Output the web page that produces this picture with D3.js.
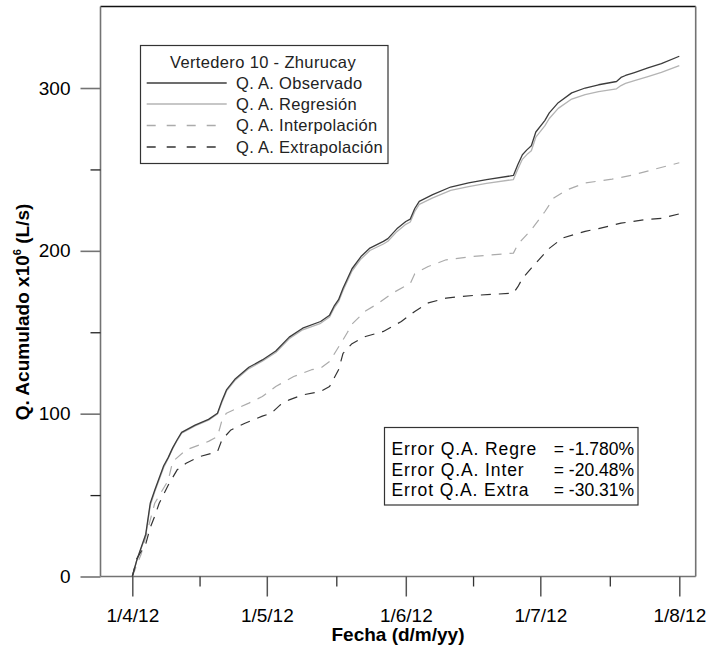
<!DOCTYPE html>
<html>
<head>
<meta charset="utf-8">
<script src="https://cdn.jsdelivr.net/npm/d3@7"></script>
<style>
  html, body { margin: 0; padding: 0; background: #fff; }
  svg { display: block; font-family: "Liberation Sans", Arial, sans-serif; }
</style>
</head>
<body>
<svg id="chart" width="707" height="650"></svg>
<script>
// Cumulative discharge, Vertedero 10 - Zhurucay (April - August 2012)
const obsDates = ["2012-04-01","2012-04-02","2012-04-03","2012-04-04","2012-04-05","2012-04-06","2012-04-08","2012-04-09","2012-04-10","2012-04-11","2012-04-12","2012-04-15","2012-04-18","2012-04-20","2012-04-21","2012-04-22","2012-04-24","2012-04-27","2012-04-30","2012-05-03","2012-05-06","2012-05-09","2012-05-13","2012-05-15","2012-05-16","2012-05-17","2012-05-18","2012-05-20","2012-05-22","2012-05-24","2012-05-27","2012-05-28","2012-05-30","2012-06-01","2012-06-02","2012-06-03","2012-06-04","2012-06-07","2012-06-11","2012-06-15","2012-06-19","2012-06-25","2012-06-26","2012-06-27","2012-06-28","2012-06-29","2012-06-30","2012-07-02","2012-07-03","2012-07-05","2012-07-08","2012-07-11","2012-07-14","2012-07-18","2012-07-19","2012-07-20","2012-07-22","2012-07-25","2012-07-28","2012-08-01"];
const observado = [0,10,18,26,45,53,68,73,79,84,88.5,93,96.5,100.3,108,114.6,121.5,128.5,133,138.5,147,152.5,156.6,160.5,166,170,177,189,196.5,201.7,205.8,207.5,213.5,218,219.5,226,230.4,234.5,239.2,241.7,243.7,246.3,253,259,262,264.5,273,280,284.7,291,297,300,302,304,306.5,307.7,309.5,312.3,315,319.5];
const regresion = [0,10,17.5,25,43.5,52,67,72.5,78.5,83.5,88,92.5,96,99.8,107,113.8,120.7,127.7,132.2,137.6,146,151.5,155.5,159.4,164.8,168.8,175.7,187.6,195,200.2,204.2,205.9,211.8,216.3,217.7,224.2,228.5,232.5,237.1,239.5,241.4,243.8,250.3,256.2,259.1,261.5,269.8,276.7,281.3,287.5,293.2,296,297.8,299.5,301.5,302.8,304.5,307,309.6,313.8];

const intDates = ["2012-04-01","2012-04-03","2012-04-06","2012-04-09","2012-04-10","2012-04-13","2012-04-18","2012-04-20","2012-04-21","2012-04-22","2012-04-27","2012-04-30","2012-05-03","2012-05-07","2012-05-11","2012-05-13","2012-05-15","2012-05-18","2012-05-19","2012-05-20","2012-05-23","2012-05-26","2012-05-29","2012-06-02","2012-06-03","2012-06-06","2012-06-10","2012-06-16","2012-06-25","2012-06-26","2012-06-29","2012-07-02","2012-07-04","2012-07-07","2012-07-11","2012-07-17","2012-07-22","2012-07-26","2012-08-01"];
const interpolacion = [0,14,45,59,70.6,77.7,83,86,96,100.3,106.5,110.5,116.7,122.8,127,128,132,145.4,150,155,163,168,174,180,186,190.4,194.5,196.6,198.6,204,213,224,232.4,237.5,241.7,244,246.8,249.8,254.1];

const extDates = ["2012-04-01","2012-04-02","2012-04-04","2012-04-05","2012-04-06","2012-04-07","2012-04-09","2012-04-11","2012-04-13","2012-04-16","2012-04-20","2012-04-21","2012-04-23","2012-04-26","2012-04-30","2012-05-02","2012-05-04","2012-05-06","2012-05-09","2012-05-13","2012-05-15","2012-05-17","2012-05-18","2012-05-20","2012-05-23","2012-05-27","2012-05-31","2012-06-03","2012-06-06","2012-06-10","2012-06-16","2012-06-25","2012-06-26","2012-06-27","2012-06-29","2012-06-30","2012-07-03","2012-07-06","2012-07-11","2012-07-14","2012-07-19","2012-07-24","2012-07-28","2012-08-01"];
const extrapolacion = [0,11,20,30,37,45,56,65.5,69.6,73.6,76.7,84,90,94,98.5,100.3,105.4,108.5,111.5,113.6,116.7,127,137,143,147.4,150.5,156.6,162.8,168,171,172.6,174,178,183,189.4,192.5,201.5,207.9,212,213.6,217,219,220,222.7];

const xTickDates = ["2012-04-01","2012-05-01","2012-06-01","2012-07-01","2012-08-01"];
const xTickLabels = ["1/4/12","1/5/12","1/6/12","1/7/12","1/8/12"];
const yTicks = [0, 100, 200, 300];
const yMinorTicks = [50, 150, 250];

const legendTitle = "Vertedero 10 - Zhurucay";
const seriesNames = ["Q. A. Observado","Q. A. Regresión","Q. A. Interpolación","Q. A. Extrapolación"];
const errorLabels = ["Error Q.A. Regre","Error Q.A. Inter","Errot Q.A. Extra"];
const errorValues = ["= -1.780%","= -20.48%","= -30.31%"];

const parse = d3.timeParse("%Y-%m-%d");
const svg = d3.select("#chart");

// plot frame
const frame = { left: 100.5, right: 695.7, top: 6.5, bottom: 576.5 };

const x = d3.scaleTime()
  .domain([parse("2012-04-01"), parse("2012-08-01")])
  .range([132.3, 679.3]);
const y = d3.scaleLinear().domain([0, 350]).range([576.5, 6.6]);

const axisGray = "#737373";

// frame lines
svg.append("line").attr("x1", frame.left).attr("x2", frame.right)
  .attr("y1", frame.top).attr("y2", frame.top).attr("stroke", "#111").attr("stroke-width", 1.3);
svg.append("line").attr("x1", frame.right).attr("x2", frame.right)
  .attr("y1", frame.top).attr("y2", frame.bottom).attr("stroke", axisGray).attr("stroke-width", 1.6);

// y axis
const yAxis = d3.axisLeft(y).tickValues(yTicks).tickSize(20).tickPadding(10).tickFormat(d3.format("d"));
const gy = svg.append("g").attr("transform", `translate(${frame.left},0)`).call(yAxis);
gy.select(".domain").attr("stroke", axisGray).attr("stroke-width", 1.6)
  .attr("d", `M0,${frame.top}V${frame.bottom}`);
gy.selectAll(".tick line").attr("stroke", axisGray).attr("stroke-width", 1.6);
gy.selectAll(".tick text").attr("font-size", 19).attr("fill", "#000")
  .attr("font-family", "Liberation Sans, Arial, sans-serif");
const yMinor = d3.axisLeft(y).tickValues(yMinorTicks).tickSize(10).tickFormat("");
const gym = svg.append("g").attr("transform", `translate(${frame.left},0)`).call(yMinor);
gym.select(".domain").remove();
gym.selectAll(".tick line").attr("stroke", "#222").attr("stroke-width", 1.3);

// x axis
const xTicks = xTickDates.map(parse);
const xAxis = d3.axisBottom(x).tickValues(xTicks).tickSize(20).tickPadding(12)
  .tickFormat((d, i) => xTickLabels[i]);
const gx = svg.append("g").attr("transform", `translate(0,${frame.bottom})`).call(xAxis);
gx.select(".domain").attr("stroke", axisGray).attr("stroke-width", 1.6)
  .attr("d", `M${frame.left},0H${frame.right}`);
gx.selectAll(".tick line").attr("stroke", "#555").attr("stroke-width", 1.5);
gx.selectAll(".tick text").attr("font-size", 19).attr("fill", "#000")
  .attr("font-family", "Liberation Sans, Arial, sans-serif");
// minor ticks halfway between month labels
const xMinorTicks = d3.pairs(xTicks).map(([a, b]) => new Date((+a + +b) / 2));
const xMinor = d3.axisBottom(x).tickValues(xMinorTicks).tickSize(10).tickFormat("");
const gxm = svg.append("g").attr("transform", `translate(0,${frame.bottom})`).call(xMinor);
gxm.select(".domain").remove();
gxm.selectAll(".tick line").attr("stroke", "#333").attr("stroke-width", 1.3);

// axis titles
svg.append("text").attr("x", 398).attr("y", 641).attr("text-anchor", "middle")
  .attr("font-size", 19).attr("font-weight", "bold").text("Fecha (d/m/yy)");
const yTitle = svg.append("text").attr("transform", "translate(29,312) rotate(-90)")
  .attr("text-anchor", "middle").attr("font-size", 19).attr("font-weight", "bold");
yTitle.append("tspan").text("Q. Acumulado x10");
yTitle.append("tspan").attr("font-size", 11).attr("dy", -8).text("6");
yTitle.append("tspan").attr("dy", 8).text(" (L/s)");

// series
const styles = [
  { color: "#3c3c3c", width: 1.3, dash: null },
  { color: "#b4b4b4", width: 1.3, dash: null },
  { color: "#ababab", width: 1.2, dash: "10,8" },
  { color: "#333333", width: 1.2, dash: "10,8" }
];
const series = [
  obsDates.map((d, i) => ({ date: parse(d), value: observado[i] })),
  obsDates.map((d, i) => ({ date: parse(d), value: regresion[i] })),
  intDates.map((d, i) => ({ date: parse(d), value: interpolacion[i] })),
  extDates.map((d, i) => ({ date: parse(d), value: extrapolacion[i] }))
];
const line = d3.line().x(d => x(d.date)).y(d => y(d.value));
// draw light series first so the darker ones sit on top
[1, 2, 3, 0].forEach(k => {
  svg.append("path").datum(series[k]).attr("fill", "none")
    .attr("stroke", styles[k].color).attr("stroke-width", styles[k].width)
    .attr("stroke-dasharray", styles[k].dash).attr("stroke-linejoin", "round")
    .attr("d", line);
});

// legend
const lg = svg.append("g");
lg.append("rect").attr("x", 140.5).attr("y", 45.5).attr("width", 247.5).attr("height", 118)
  .attr("fill", "#fff").attr("stroke", "#333").attr("stroke-width", 1.2);
lg.append("text").attr("x", 263).attr("y", 68).attr("text-anchor", "middle")
  .attr("font-size", 16.5).attr("letter-spacing", 0.35).attr("fill", "#222").text(legendTitle);
const rowY = [83, 104, 125.5, 147];
seriesNames.forEach((name, i) => {
  lg.append("line").attr("x1", 146.7).attr("x2", 226.7).attr("y1", rowY[i]).attr("y2", rowY[i])
    .attr("stroke", styles[i].color).attr("stroke-width", 1.3)
    .attr("stroke-dasharray", styles[i].dash ? "9,11" : null);
  lg.append("text").attr("x", 236).attr("y", rowY[i] + 5.5)
    .attr("font-size", 16.5).attr("letter-spacing", 0.3).attr("fill", "#222").text(name);
});

// error summary box
const eb = svg.append("g");
eb.append("rect").attr("x", 384.5).attr("y", 427.5).attr("width", 253.5).attr("height", 77.5)
  .attr("fill", "#fff").attr("stroke", "#333").attr("stroke-width", 1.2);
const errY = [455, 476, 496];
errorLabels.forEach((t, i) => {
  eb.append("text").attr("x", 391.5).attr("y", errY[i]).attr("font-size", 17.5)
    .attr("letter-spacing", 0.9).text(t);
  eb.append("text").attr("x", 634).attr("y", errY[i]).attr("text-anchor", "end")
    .attr("font-size", 17.5).text(errorValues[i]);
});
</script>
</body>
</html>
